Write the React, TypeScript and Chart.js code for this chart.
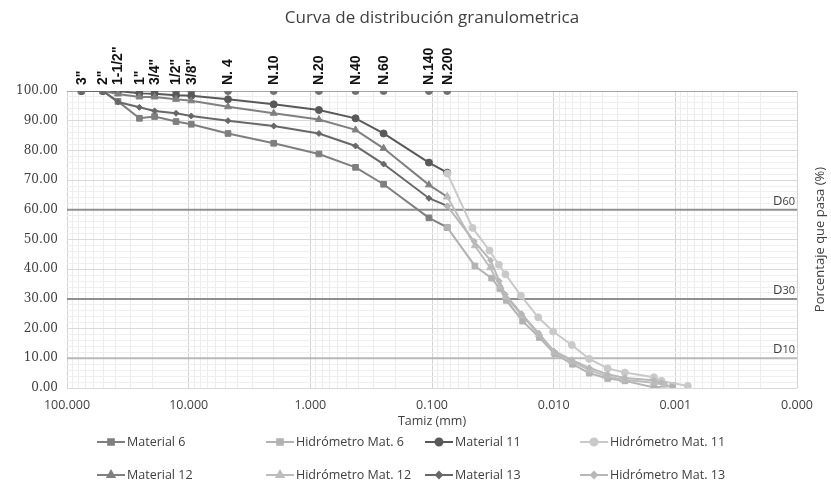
import React, { useEffect, useRef } from 'react';
import { Chart, registerables } from 'chart.js';
import { drawPoint } from 'chart.js/helpers';

Chart.register(...registerables);

const chartTitle = 'Curva de distribución granulometrica';
const xTitle = 'Tamiz (mm)';
const yTitle = 'Porcentaje que pasa (%)';

const sieveLabels = ['3"', '2"', '1-1/2"', '1"', '3/4"', '1/2"', '3/8"', 'N. 4', 'N.10', 'N.20', 'N.40', 'N.60', 'N.140', 'N.200'];
const sieveSizes = [76.2, 50.8, 38.1, 25.4, 19.05, 12.7, 9.525, 4.75, 2.0, 0.85, 0.425, 0.25, 0.106, 0.075];

const material6 = [100, 100, 96.5, 90.8, 91.4, 89.7, 88.8, 85.7, 82.4, 78.8, 74.3, 68.6, 57.3, 54.1];
const material11 = [100, 100, 100, 99.2, 99.1, 98.6, 98.4, 97.2, 95.5, 93.6, 90.8, 85.7, 75.9, 72.5];
const material12 = [100, 100, 99.0, 98.0, 98.0, 97.2, 96.7, 94.7, 92.5, 90.4, 86.9, 80.7, 68.4, 64.4];
const material13 = [100, 100, 96.3, 94.5, 93.3, 92.5, 91.6, 90.0, 88.2, 85.7, 81.5, 75.4, 63.9, 61.3];

const hidro6Diam = [0.075, 0.0444, 0.0324, 0.0277, 0.0245, 0.018, 0.0131, 0.0098, 0.007, 0.0051, 0.0036, 0.0026, 0.0015, 0.00105];
const hidro6Pct = [54.1, 41.1, 37.0, 33.5, 29.5, 22.5, 17.0, 11.5, 8.0, 5.0, 3.2, 2.4, 0.2, 0.8];
const hidro11Diam = [0.0747, 0.0464, 0.0337, 0.0282, 0.0249, 0.0186, 0.0134, 0.0101, 0.0071, 0.0051, 0.0036, 0.0026, 0.0015, 0.0013, 0.00079];
const hidro11Pct = [72.2, 53.9, 46.3, 41.5, 38.3, 31.1, 23.8, 19.0, 14.5, 9.8, 6.6, 5.2, 3.6, 2.4, 0.7];
const hidro12Diam = [0.075, 0.0444, 0.0333, 0.0274, 0.0249, 0.0182, 0.0132, 0.0099, 0.0071, 0.0051, 0.0037, 0.0027, 0.0015, 0.0012];
const hidro12Pct = [64.4, 47.9, 40.5, 34.2, 30.8, 24.5, 18.0, 12.0, 9.0, 6.0, 4.0, 2.8, 1.8, 1.0];
const hidro13Diam = [0.075, 0.045, 0.033, 0.028, 0.025, 0.0184, 0.0133, 0.01, 0.0071, 0.0051, 0.0036, 0.0026, 0.0015, 0.0013];
const hidro13Pct = [61.3, 49.4, 43.0, 36.0, 31.5, 25.0, 18.5, 12.5, 9.5, 6.8, 4.6, 3.4, 2.6, 1.8];

const refLevels = [60, 30, 10];
const refLabels = ['60', '30', '10'];
const xMin = 0.0001;
const xMax = 100;

const pts = (xs: number[], ys: number[]) => xs.map((x, i) => ({ x, y: ys[i] }));
const isDecade = (v: number) => {
  const l = Math.log10(v);
  return Math.abs(l - Math.round(l)) < 1e-6;
};

const series = [
  { label: 'Material 6', data: pts(sieveSizes, material6), color: '#7f7f7f', style: 'rect', r: 4 },
  { label: 'Hidrómetro Mat. 6', data: pts(hidro6Diam, hidro6Pct), color: '#b3b3b3', style: 'rect', r: 4 },
  { label: 'Material 11', data: pts(sieveSizes, material11), color: '#595959', style: 'circle', r: 3.5 },
  { label: 'Hidrómetro Mat. 11', data: pts(hidro11Diam, hidro11Pct), color: '#c9c9c9', style: 'circle', r: 3.5 },
  { label: 'Material 12', data: pts(sieveSizes, material12), color: '#808080', style: 'triangle', r: 4 },
  { label: 'Hidrómetro Mat. 12', data: pts(hidro12Diam, hidro12Pct), color: '#bdbdbd', style: 'triangle', r: 4 },
  { label: 'Material 13', data: pts(sieveSizes, material13), color: '#686868', style: 'rectRot', r: 3 },
  { label: 'Hidrómetro Mat. 13', data: pts(hidro13Diam, hidro13Pct), color: '#b8b8b8', style: 'rectRot', r: 3 },
];

const textColor = '#404040';

const extras = {
  id: 'extras',
  afterDraw(chart: any) {
    const ctx = chart.ctx as CanvasRenderingContext2D;
    const xS = chart.scales.x;
    const yS = chart.scales.y;
    const a = chart.chartArea;
    const cx = (a.left + a.right) / 2;
    ctx.save();
    ctx.fillStyle = textColor;
    ctx.font = '17px "Open Sans"';
    ctx.textAlign = 'center';
    ctx.textBaseline = 'middle';
    ctx.fillText(chartTitle, cx, 18);
    ctx.font = '12.5px "Open Sans"';
    ctx.fillText(xTitle, cx, 421);
    ctx.save();
    ctx.translate(820, (a.top + a.bottom) / 2);
    ctx.rotate(-Math.PI / 2);
    ctx.font = '13px "Open Sans"';
    ctx.fillText(yTitle, 0, 0);
    ctx.restore();
    ctx.fillStyle = '#111111';
    ctx.font = 'bold 14px "Liberation Sans"';
    ctx.textAlign = 'left';
    sieveSizes.forEach((s, i) => {
      const x = xS.getPixelForValue(s);
      const y = yS.getPixelForValue(100) - 6;
      ctx.save();
      ctx.translate(x, y);
      ctx.rotate(-Math.PI / 2);
      ctx.fillText(sieveLabels[i], 0, 0.5);
      ctx.restore();
    });
    ctx.fillStyle = textColor;
    refLevels.forEach((v, i) => {
      const y = yS.getPixelForValue(v) - 9;
      ctx.font = '11px "Open Sans"';
      const w2 = ctx.measureText(refLabels[i]).width;
      ctx.textAlign = 'right';
      ctx.fillText(refLabels[i], a.right - 2, y + 1);
      ctx.font = '13px "Open Sans"';
      ctx.fillText('D', a.right - 2 - w2, y);
    });
    const cols = [97, 266, 425, 580];
    const rows = [442, 475];
    ctx.font = '12.5px "Open Sans"';
    ctx.textAlign = 'left';
    series.forEach((s, i) => {
      const x = cols[i % 4];
      const y = rows[Math.floor(i / 4)];
      ctx.strokeStyle = s.color;
      ctx.lineWidth = 2;
      ctx.beginPath();
      ctx.moveTo(x, y);
      ctx.lineTo(x + 28, y);
      ctx.stroke();
      ctx.fillStyle = s.color;
      drawPoint(ctx, { pointStyle: s.style as any, radius: s.r, rotation: 0, borderWidth: 1 } as any, x + 14, y);
      ctx.fillStyle = textColor;
      ctx.fillText(s.label, x + 30, y);
    });
    ctx.restore();
  },
};

export default function App() {
  const ref = useRef<HTMLCanvasElement>(null);
  useEffect(() => {
    document.body.style.margin = '0';
    const datasets: any[] = [];
    datasets.push({
      label: 'top', data: [{ x: xMax, y: 100 }, { x: xMin, y: 100 }], borderColor: '#959595', borderWidth: 1.5,
      pointRadius: 0, order: 20,
    });
    refLevels.forEach((v, i) => {
      datasets.push({
        label: 'D' + refLabels[i], data: [{ x: xMax, y: v }, { x: xMin, y: v }],
        borderColor: v === 10 ? '#b8b8b8' : '#8f8f8f', borderWidth: 2, pointRadius: 0, order: 20,
      });
    });
    datasets.push({
      label: 'tamices', data: sieveSizes.map((s) => ({ x: s, y: 100 })), showLine: false,
      pointStyle: 'circle', pointRadius: 3.5, backgroundColor: '#727272', borderColor: '#727272', order: 15,
    });
    series.forEach((s, i) => {
      datasets.push({
        label: s.label, data: s.data, borderColor: s.color, backgroundColor: s.color, borderWidth: 2,
        pointStyle: s.style, pointRadius: s.r, pointBorderWidth: 1, pointBackgroundColor: s.color,
        pointBorderColor: s.color, order: 10 - i,
      });
    });
    const chart = new Chart(ref.current!, {
      type: 'line',
      data: { datasets },
      plugins: [extras],
      options: {
        animation: false,
        responsive: false,
        devicePixelRatio: 1,
        parsing: false as any,
        layout: { padding: { left: 0, right: 34, top: 91, bottom: 0 } },
        plugins: { legend: { display: false }, tooltip: { enabled: false }, title: { display: false } },
        scales: {
          x: {
            type: 'logarithmic',
            reverse: true,
            min: xMin,
            max: xMax,
            afterFit: (s: any) => { s.height = 100; },
            afterBuildTicks: (s: any) => {
              const t: any[] = [];
              for (let e = -4; e <= 2; e++) {
                for (let m = 1; m <= 9; m++) {
                  const v = parseFloat((m * Math.pow(10, e)).toPrecision(6));
                  if (v >= xMin && v <= xMax) t.push({ value: v });
                }
              }
              s.ticks = t;
            },
            ticks: {
              autoSkip: false,
              maxRotation: 0,
              padding: 10,
              color: textColor,
              font: { family: 'Open Sans', size: 12.5 },
              callback: (v: any) => (isDecade(Number(v)) ? Number(v).toFixed(3) : ''),
            },
            grid: {
              drawTicks: false,
              color: (c: any) => (c.tick && isDecade(c.tick.value) ? '#d3d3d3' : '#ececec'),
            },
            border: { display: false },
          },
          y: {
            type: 'linear',
            min: 0,
            max: 100,
            afterFit: (s: any) => { s.width = 67; },
            ticks: {
              stepSize: 2,
              autoSkip: false,
              padding: 9,
              color: textColor,
              font: { family: 'DejaVu Serif', size: 12 },
              callback: (v: any) => (Math.round(Number(v)) % 10 === 0 ? Number(v).toFixed(2) : ''),
            },
            grid: {
              drawTicks: false,
              color: (c: any) => (c.tick && Math.round(c.tick.value) % 10 === 0 ? '#d9d9d9' : '#efefef'),
            },
            border: { display: false },
          },
        },
      } as any,
    });
    return () => chart.destroy();
  }, []);
  return (
    <div style={{ width: 831, height: 488 }}>
      <canvas ref={ref} width={831} height={488} style={{ display: 'block' }} />
    </div>
  );
}
